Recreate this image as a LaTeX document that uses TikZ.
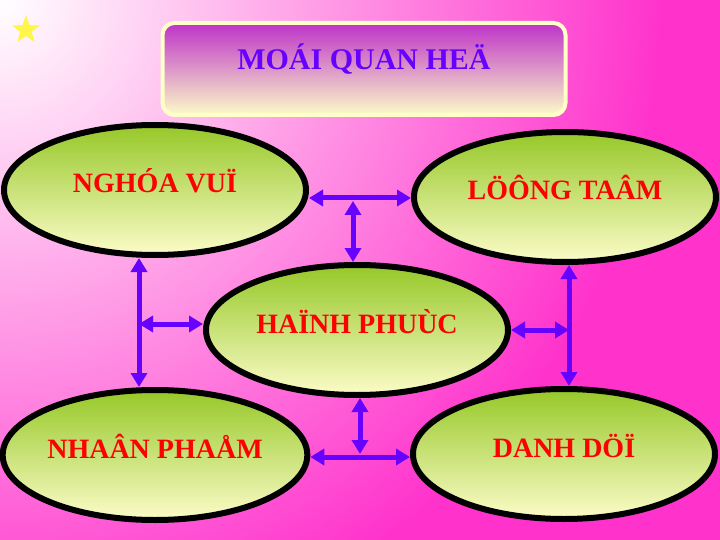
\documentclass[tikz,border=0pt]{standalone}
\usepackage{fontspec}
\setmainfont{Liberation Serif}
\usepackage{tikz}
\usetikzlibrary{arrows.meta, positioning, calc, shapes.geometric}
\usepackage{xcolor}
\definecolor{bgpink}{RGB}{255,51,204}
\definecolor{violet}{RGB}{102,0,255}
\definecolor{leaf}{RGB}{150,200,40}
\definecolor{cream}{RGB}{252,252,200}
\definecolor{plum}{RGB}{190,50,200}
\definecolor{mauve}{RGB}{228,190,212}
\definecolor{palebox}{RGB}{255,255,200}

\begin{document}
\begin{tikzpicture}[x=1pt,y=-1pt,
    idea/.style={ellipse, draw=black, line width=6pt, top color=leaf, bottom color=cream,
      minimum width=302pt, minimum height=130pt, inner sep=0pt,
      text=red, font=\fontsize{28}{30}\selectfont\bfseries, text height=20pt, text depth=14pt},
    link/.style={{Triangle[length=14pt,width=16pt]}-{Triangle[length=14pt,width=16pt]}, violet, line width=5pt}]
  \useasboundingbox (0,0) rectangle (720,540);
  \fill[bgpink] (0,0) rectangle (720,540);
  \begin{scope}
    \clip (0,0) rectangle (720,540);
    \shade[inner color=white, outer color=bgpink] (0,0) circle (660pt);
  \end{scope}
  \node[star, star points=5, star point ratio=2.5, fill=yellow!70!white, minimum size=30pt, inner sep=0pt] (deco) at (26,30) {};
  \node[rounded corners=12pt, draw=palebox, line width=4pt, top color=plum, middle color=mauve, bottom color=cream,
    minimum width=403pt, minimum height=92pt, text=violet, font=\fontsize{30}{32}\selectfont\bfseries,
    text height=22pt, text depth=20pt] (title) at (364,69) {MOÁI QUAN HEÄ};

  \node[idea] (nghia) at (155,190) {NGHÓA VUÏ};
  \node[idea] (luong) at (565,197) {LÖÔNG TAÂM};
  \node[idea] (hanh) at (357,330) {HAÏNH PHUÙC};
  \node[idea] (nhan) at (155,455) {NHAÂN PHAÅM};
  \node[idea] (danh) at (564,454) {DANH DÖÏ};

  \coordinate (jt) at (353,198);
  \coordinate (jl) at (139,324);
  \coordinate (jr) at (569,330);
  \coordinate (jb) at (360,457);

  \draw[link] (nghia.east |- jt) -- (luong.west |- jt);
  \draw[link, shorten <=3pt] (jt) -- (hanh.north -| jt);
  \draw[link] (jl |- nghia.south) -- (jl |- nhan.north);
  \draw[link] (jl) -- (hanh.west |- jl);
  \draw[link] (jr |- luong.south) -- (jr |- danh.north);
  \draw[link] (hanh.east |- jr) -- (jr);
  \draw[link, shorten <=3pt] (jb) -- (jb |- hanh.south);
  \draw[link] (nhan.east |- jb) -- (danh.west |- jb);
\end{tikzpicture}
\end{document}
